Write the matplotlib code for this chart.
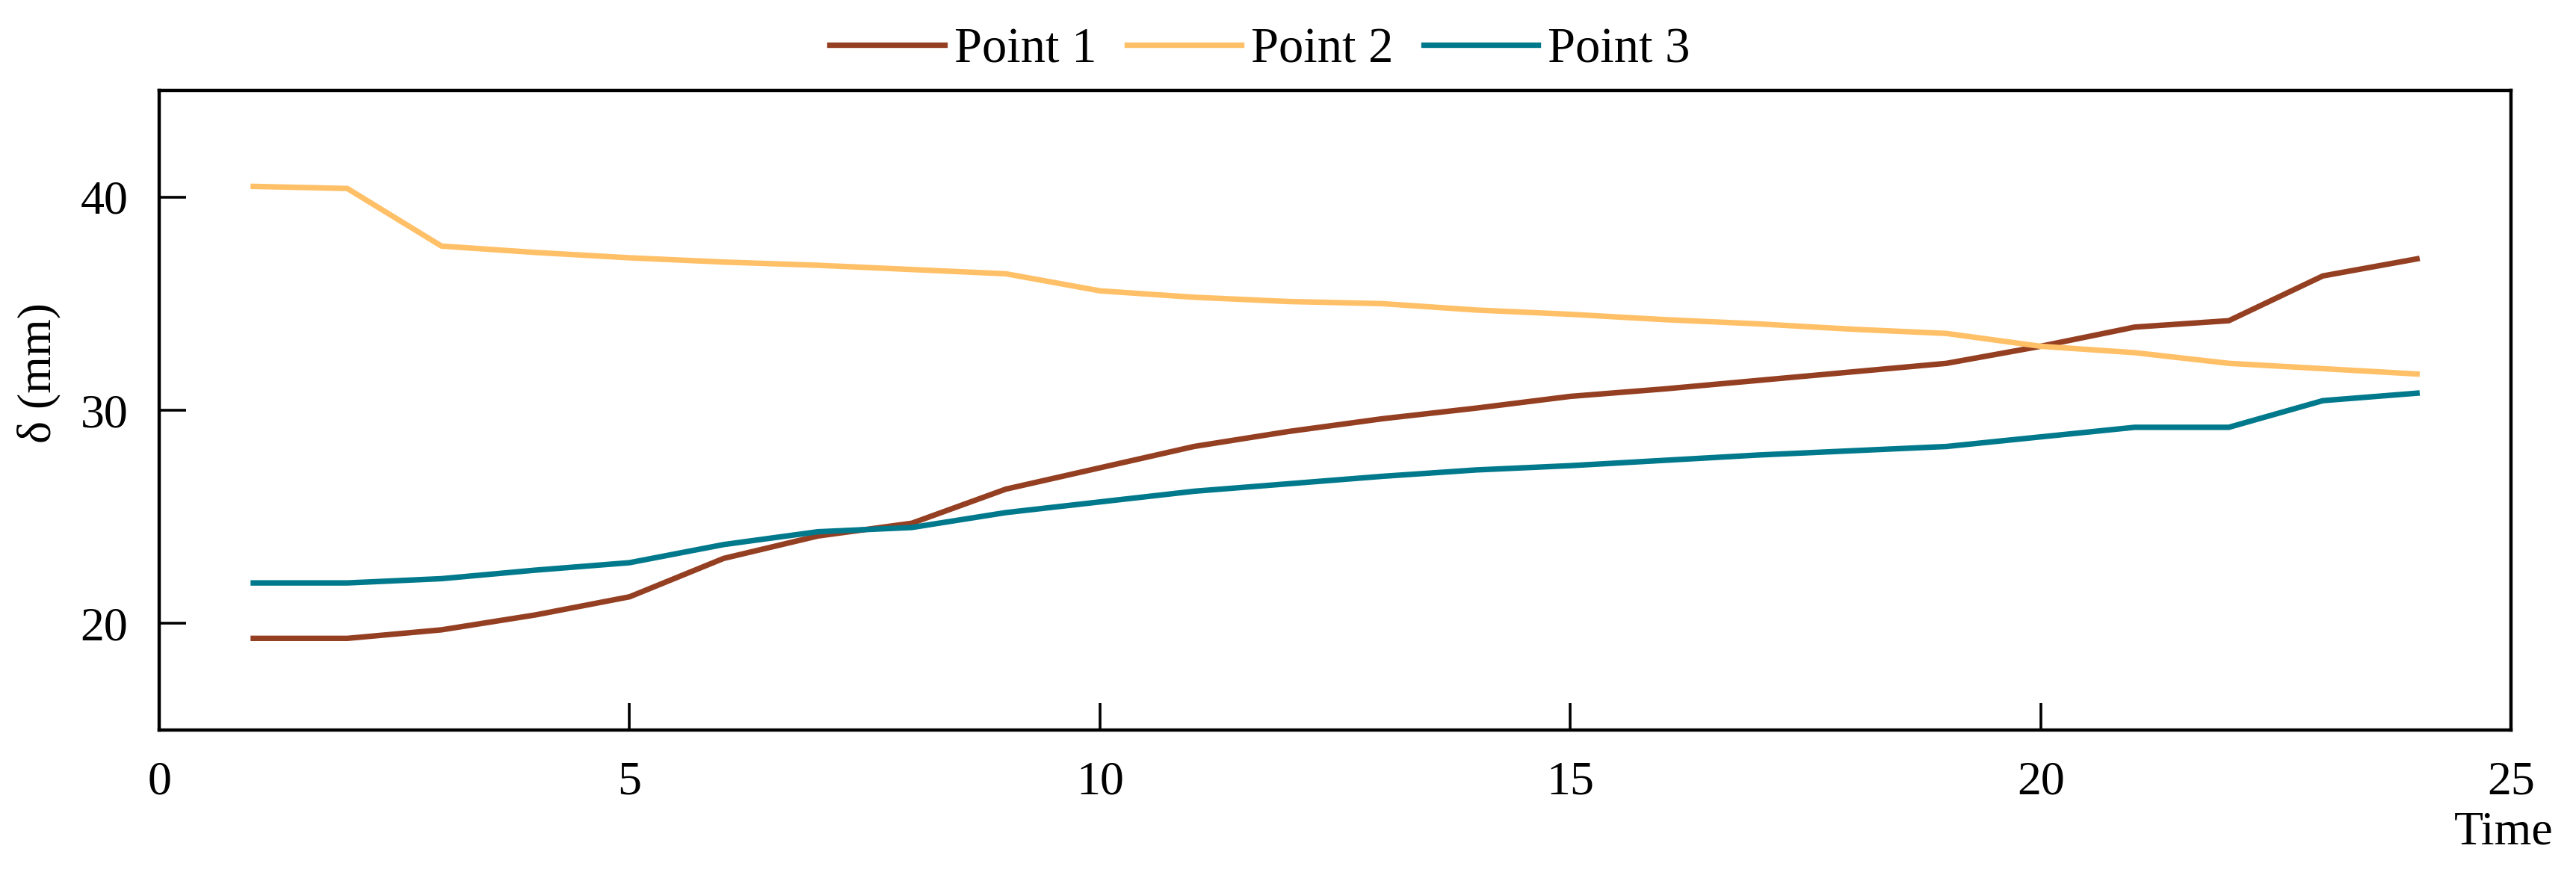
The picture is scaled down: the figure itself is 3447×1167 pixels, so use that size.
import matplotlib
matplotlib.use("Agg")
import matplotlib.pyplot as plt

# values
time = list(range(1, 25))
point1 = [19.3, 19.3, 19.7, 20.4, 21.25, 23.05, 24.1, 24.7, 26.3, 27.3, 28.3, 29.0,
          29.6, 30.1, 30.65, 31.0, 31.4, 31.8, 32.2, 33.0, 33.9, 34.2, 36.3, 37.1]
point2 = [40.5, 40.4, 37.7, 37.4, 37.15, 36.95, 36.8, 36.6, 36.4, 35.6, 35.3, 35.1,
          35.0, 34.7, 34.5, 34.25, 34.05, 33.8, 33.6, 33.0, 32.7, 32.2, 31.95, 31.7]
point3 = [21.9, 21.9, 22.1, 22.5, 22.85, 23.7, 24.3, 24.5, 25.2, 25.7, 26.2, 26.55,
          26.9, 27.2, 27.4, 27.65, 27.9, 28.1, 28.3, 28.75, 29.2, 29.2, 30.45, 30.8]
labels = ['Point 1', 'Point 2', 'Point 3']
colors = ['#953f22', '#ffc067', '#00798c']
xticks = [0, 5, 10, 15, 20, 25]
yticks = [20, 30, 40]

plt.rcParams['font.family'] = ['Liberation Serif', 'DejaVu Serif']
fs = 46

fig = plt.figure(figsize=(34.48, 11.67), dpi=100)
ax = fig.add_axes([0.0618, 0.1628, 0.9127, 0.7335])

for y, lab, c in zip([point1, point2, point3], labels, colors):
    ax.plot(time, y, color=c, linewidth=5.3, label=lab)

ax.set_xlim(0, 25)
ax.set_ylim(15, 45)
ax.set_xticks(xticks)
ax.set_yticks(yticks)
ax.tick_params(direction='in', length=26, width=2.6, labelsize=fs, pad=30,
               top=False, right=False)
for s in ax.spines.values():
    s.set_linewidth(3.2)

fig.text(3350 / 3448, 1 - 1115 / 1167, 'Time', fontsize=fs, ha='center', va='center')
fig.text(52 / 3448, 1 - 499 / 1167, 'δ (mm)', fontsize=fs, rotation=90,
         ha='center', va='center')

fig.legend(loc='center', bbox_to_anchor=(0.489, 0.943), ncol=3, frameon=False,
           fontsize=48, handlelength=2.3, handletextpad=0.2, columnspacing=0.6)

fig.savefig('out.png', dpi=100)
